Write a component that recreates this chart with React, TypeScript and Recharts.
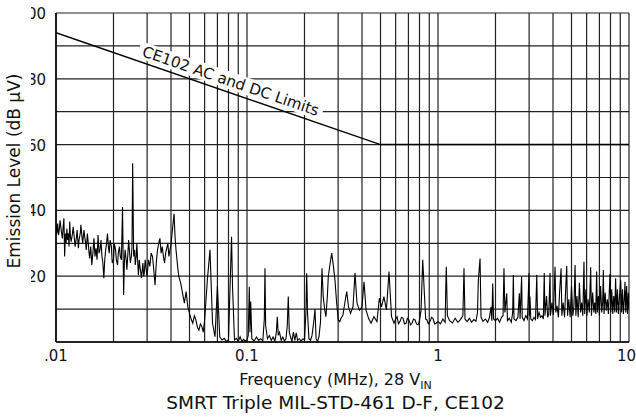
import { LineChart, Line, XAxis, YAxis, CartesianGrid, ReferenceDot } from 'recharts'

const FONT = '"DejaVu Sans", sans-serif'
const INK = '#111'

// CE102 limit for 28 V input: 94 dBuV at 10 kHz down to 60 dBuV at 500 kHz, flat after
const limitFreq = [0.01, 0.5, 10]
const limitLevel = [94, 60, 60]

// where the limit caption sits along the sloped part of the limit line
const captionFreq = 0.0786
const captionLevel = 76.1

const xTicks = [
  0.01, 0.02, 0.03, 0.04, 0.05, 0.06, 0.07, 0.08, 0.09,
  0.1, 0.2, 0.3, 0.4, 0.5, 0.6, 0.7, 0.8, 0.9,
  1, 2, 3, 4, 5, 6, 7, 8, 9, 10,
]
const xTickLabels: Record<string, string> = { '0.01': '.01', '0.1': '0.1', '1': '1', '10': '10' }
const yTicks = [0, 10, 20, 30, 40, 50, 60, 70, 80, 90, 100]
const yTickLabels = [20, 40, 60, 80, 100]

const lowBand: [number, number][] = [
  [0.01, 35.6], [0.0101, 33], [0.0102, 36], [0.0103, 32.5], [0.0104, 34], [0.0105, 37],
  [0.0106, 35], [0.0107, 33], [0.0108, 31.5], [0.0109, 35], [0.011, 37.6], [0.0111, 26],
  [0.0112, 33], [0.0113, 30], [0.0114, 34.5], [0.0115, 31], [0.0116, 33], [0.0117, 29],
  [0.0118, 36.6], [0.0119, 32], [0.012, 30.5], [0.0122, 33], [0.0123, 35], [0.0125, 31],
  [0.0126, 29], [0.0128, 32], [0.0129, 34], [0.0131, 28.5], [0.0132, 31], [0.0134, 33],
  [0.0135, 35.6], [0.0137, 31.5], [0.0138, 30], [0.014, 34], [0.0141, 32.5], [0.0143, 30],
  [0.0144, 28], [0.0146, 33], [0.0147, 31], [0.0149, 27], [0.015, 25.4], [0.0152, 29],
  [0.0154, 23.4], [0.0156, 27], [0.0158, 31.5], [0.016, 26], [0.0162, 28.5], [0.0164, 25],
  [0.0166, 32.5], [0.0168, 27], [0.017, 28], [0.0172, 31], [0.0174, 26], [0.0176, 24],
  [0.0178, 19.4], [0.018, 25], [0.0182, 28], [0.0184, 30], [0.0186, 33], [0.0188, 29],
  [0.019, 27], [0.0192, 31], [0.0195, 29], [0.0197, 24], [0.02, 25], [0.0202, 30],
  [0.0205, 28], [0.0207, 25], [0.021, 23.4], [0.0212, 27], [0.0215, 29], [0.0217, 26],
  [0.022, 25], [0.0223, 41], [0.0226, 14.3], [0.0228, 24], [0.023, 28], [0.0233, 25],
  [0.0235, 22], [0.0238, 27], [0.024, 31], [0.0243, 27], [0.0245, 24], [0.0248, 26],
  [0.025, 29], [0.0252, 54.3], [0.0255, 26], [0.0258, 28], [0.026, 23.4], [0.0263, 26],
  [0.0265, 30], [0.0268, 24], [0.027, 20.4], [0.0273, 25], [0.0275, 23], [0.0278, 21],
  [0.028, 19.4], [0.0283, 22], [0.0285, 24], [0.0288, 20], [0.029, 21], [0.0293, 25],
  [0.0295, 23.4], [0.0298, 21], [0.03, 20], [0.0305, 25], [0.031, 23], [0.0315, 27],
  [0.032, 26], [0.0325, 22], [0.033, 17.3], [0.0335, 24], [0.034, 28], [0.0345, 30],
  [0.035, 31.5], [0.0355, 27], [0.036, 29], [0.0365, 26], [0.037, 24], [0.0375, 27],
  [0.038, 28.5], [0.0385, 30], [0.039, 26], [0.0395, 28], [0.04, 29.5], [0.0405, 33],
  [0.041, 36], [0.0415, 39], [0.042, 32], [0.0425, 28], [0.043, 25], [0.0435, 22],
  [0.044, 19.9], [0.045, 17.8], [0.046, 14.8], [0.047, 11.8], [0.048, 15.3], [0.049, 10.7],
  [0.05, 8.7],
]

const dipBand: [number, number][] = [
  [0.051, 7], [0.052, 5.7], [0.053, 8], [0.054, 6.7], [0.055, 4.5], [0.056, 3.6],
  [0.057, 5.5], [0.058, 4.7], [0.059, 3], [0.06, 6.7], [0.062, 18.8], [0.064, 28],
  [0.066, 5.7], [0.068, 1.6], [0.07, 17], [0.072, 1.6], [0.074, 0.6], [0.076, 1.1],
  [0.078, 0.1], [0.08, 0.6], [0.083, 32], [0.084, 16.8], [0.086, 0.6], [0.088, 1.1],
  [0.09, 0.2], [0.092, 1.6], [0.094, 0.2], [0.096, 0.8], [0.098, 0.3],
]

const midBand: [number, number][] = [
  [0.1, 0.5], [0.1015, 2], [0.1028, 16.8], [0.1037, 3], [0.1046, 12.3], [0.106, 1],
  [0.109, 0.3], [0.112, 1.5], [0.115, 0.5], [0.118, 1], [0.121, 0.3], [0.1232, 7],
  [0.1242, 22.4], [0.1252, 5], [0.128, 1], [0.131, 2], [0.134, 0.5], [0.137, 1.5],
  [0.14, 0.3], [0.1425, 3], [0.1441, 7.7], [0.1458, 2], [0.148, 3], [0.151, 0.5],
  [0.154, 1.5], [0.157, 0.3], [0.16, 1], [0.1625, 5], [0.1645, 13.8], [0.1665, 3],
  [0.169, 1.5], [0.172, 0.3], [0.175, 3], [0.178, 0.5], [0.181, 2.8], [0.184, 0.5],
  [0.188, 1], [0.192, 0.3], [0.196, 1], [0.2, 0.5], [0.2035, 9], [0.2054, 20.9],
  [0.2075, 8.7], [0.211, 1], [0.215, 0.5], [0.219, 2], [0.2235, 6], [0.227, 10],
  [0.23, 1], [0.234, 0.2], [0.238, 1.5], [0.2425, 6], [0.247, 22.4], [0.2505, 14],
  [0.255, 10], [0.259, 7.7], [0.2635, 14], [0.2665, 19.9], [0.2725, 24], [0.2777, 27],
  [0.2835, 23], [0.2888, 18.8], [0.2945, 12], [0.3006, 6.7], [0.306, 6.2], [0.3105, 7.2],
  [0.318, 8.2], [0.326, 12.3], [0.3327, 15.3], [0.34, 10.7], [0.3483, 8.7], [0.3589, 10.7],
  [0.3677, 21], [0.3766, 11.8], [0.3881, 9.7], [0.4, 10.7], [0.41, 18.3], [0.42, 9.7],
  [0.433, 7.2], [0.446, 5.7], [0.462, 7.7], [0.479, 6.2], [0.493, 13.3], [0.506, 10.7],
  [0.521, 13.8], [0.537, 9.7], [0.554, 21.4], [0.571, 7.7], [0.5885, 5.7], [0.6, 7],
  [0.61, 7.7], [0.621, 5.5], [0.632, 6.2], [0.644, 7.5], [0.656, 7.2], [0.668, 5.5],
  [0.68, 5.7], [0.692, 7.2], [0.705, 6.7], [0.718, 5.2], [0.731, 5.7], [0.744, 7],
  [0.758, 6.7], [0.772, 5.5], [0.786, 5.2], [0.8, 6.5], [0.815, 9.7], [0.832, 25],
  [0.85, 13.8], [0.862, 7], [0.875, 6.7], [0.89, 5.5], [0.908, 6.2], [0.925, 7.5],
  [0.942, 7.2], [0.96, 5.5], [0.977, 5.7],
]

const highBand: [number, number][] = [
  [1, 6.2], [1.03, 5.5], [1.06, 7], [1.09, 6], [1.097, 15], [1.105, 22.9], [1.12, 8],
  [1.15, 6.5], [1.19, 5.8], [1.23, 7.2], [1.27, 6], [1.31, 6.8], [1.35, 8], [1.368, 22.4],
  [1.385, 7], [1.42, 6.2], [1.46, 7.2], [1.5, 6], [1.54, 6.8], [1.58, 6.3], [1.61, 9],
  [1.626, 18.8], [1.66, 25.4], [1.68, 7.5], [1.72, 6.3], [1.77, 7], [1.82, 6], [1.86, 7.5],
  [1.895, 10.7], [1.915, 6.5], [1.934, 17.8], [1.955, 7], [2, 6.5], [2.05, 7.2], [2.1, 6],
  [2.15, 7.5], [2.19, 8], [2.215, 22.4], [2.24, 9], [2.29, 14.8], [2.31, 6.5], [2.36, 7.2],
  [2.42, 6], [2.46, 9], [2.48, 20.4], [2.5, 7], [2.56, 6.5], [2.62, 7.5], [2.666, 14.8],
  [2.69, 7], [2.74, 19.9], [2.76, 7.5], [2.82, 6.5], [2.88, 8], [2.94, 7], [2.995, 20.9],
  [3.01, 8], [3.03, 13.8], [3.06, 7], [3.12, 6.5], [3.18, 7.5], [3.24, 6.8], [3.29, 20.4],
  [3.32, 7], [3.38, 9], [3.44, 7.5], [3.5, 8], [3.56, 7], [3.6, 21], [3.63, 8], [3.7, 14],
  [3.75, 7.5], [3.8, 8.5], [3.86, 21], [3.88, 8], [3.95, 12], [4.02, 8.2], [4.1, 22.9],
  [4.14, 9], [4.2, 11], [4.27, 7.5], [4.33, 15], [4.41, 22.4], [4.45, 8], [4.52, 12],
  [4.6, 7.5], [4.66, 16], [4.72, 23.1], [4.77, 8], [4.84, 13], [4.92, 7.5], [5, 17],
  [5.08, 8], [5.15, 11], [5.22, 23.4], [5.27, 8], [5.34, 14], [5.42, 7.5], [5.5, 18],
  [5.58, 9], [5.65, 12], [5.73, 8], [5.81, 24.4], [5.86, 8.5], [5.95, 16], [6.02, 8],
  [6.1, 13], [6.2, 9], [6.3, 22.7], [6.36, 8], [6.45, 15], [6.55, 9], [6.62, 12],
  [6.7, 8.5], [6.77, 21.4], [6.83, 9], [6.92, 14], [7, 8], [7.1, 17], [7.2, 9], [7.28, 12],
  [7.34, 21.9], [7.4, 8.5], [7.5, 15], [7.6, 9.5], [7.7, 13], [7.8, 8.5], [7.95, 20.7],
  [8.03, 9], [8.12, 16], [8.22, 8.5], [8.32, 14], [8.42, 9], [8.51, 19.4], [8.6, 9],
  [8.7, 16], [8.8, 8.5], [8.92, 14], [9.05, 18.8], [9.15, 9], [9.25, 16], [9.35, 8.5],
  [9.45, 13], [9.53, 18.3], [9.62, 9], [9.72, 17], [9.82, 8.5], [9.92, 15], [10, 10],
]

const emission = [...lowBand, ...dipBand, ...midBand, ...highBand].map(([f, v]) => ({ f, v }))
const limit = limitFreq.map((f, i) => ({ f, v: limitLevel[i] }))

const XTick = ({ x, y, payload }: any) => {
  const label = xTickLabels[String(payload.value)]
  if (!label) return <g />
  // the last label would run past the right edge, so it is right-aligned there
  const last = payload.value === xTicks[xTicks.length - 1]
  return (
    <text
      x={last ? x + 7 : x}
      y={y}
      dy={11}
      textAnchor={last ? 'end' : 'middle'}
      fontSize={15}
      fontFamily={FONT}
      fill={INK}
    >
      {label}
    </text>
  )
}

// the left edge of the original tick labels is cut off, keep that look
const YTick = ({ x, y, payload }: any) => {
  const v = payload.value
  if (!yTickLabels.includes(v)) return <g />
  const id = `ytick-clip-${v}`
  return (
    <g>
      <defs>
        <clipPath id={id}>
          <rect x={31} y={y - 14} width={30} height={28} />
        </clipPath>
      </defs>
      <text x={x - 2} y={y} dy={6} textAnchor="end" fontSize={15} fontFamily={FONT} fill={INK} clipPath={`url(#${id})`}>
        {v}
      </text>
    </g>
  )
}

const LimitCaption = ({ cx, cy }: any) => (
  <g transform={`translate(${cx},${cy}) rotate(18.9)`}>
    <rect x={-97} y={-20} width={194} height={17} fill="#fff" />
    <text x={0} y={-6} textAnchor="middle" fontSize={15.2} fontFamily={FONT} fill={INK}>
      CE102 AC and DC Limits
    </text>
  </g>
)

const XTitle = ({ viewBox }: any) => {
  const cx = viewBox.x + viewBox.width / 2 - 7
  return (
    <g fontFamily={FONT} fill={INK} textAnchor="middle">
      <text x={cx} y={viewBox.y + 43} fontSize={16}>
        Frequency (MHz), 28 V<tspan fontSize={11} dy={4}>IN</tspan>
      </text>
      <text x={cx} y={viewBox.y + 67} fontSize={18.5}>
        SMRT Triple MIL-STD-461 D-F, CE102
      </text>
    </g>
  )
}

const YTitle = () => (
  <text x={20} y={171} transform="rotate(-90 20 171)" textAnchor="middle" fontSize={17} fontFamily={FONT} fill={INK}>
    Emission Level (dB µV)
  </text>
)

export default function App() {
  return (
    <div style={{ position: 'absolute', left: 0, top: 0, width: 636, height: 418, background: '#fff' }}>
      <LineChart width={636} height={418} margin={{ top: 13, right: 7, bottom: 0, left: 0 }}>
        <CartesianGrid stroke="#222" strokeWidth={1.2} />
        <XAxis
          dataKey="f"
          type="number"
          scale="log"
          domain={[0.01, 10]}
          ticks={xTicks}
          interval={0}
          allowDataOverflow
          height={76}
          tickLine={false}
          axisLine={{ stroke: '#000', strokeWidth: 1.5 }}
          tick={<XTick />}
          label={<XTitle />}
        />
        <YAxis
          type="number"
          domain={[0, 100]}
          ticks={yTicks}
          interval={0}
          width={56}
          tickLine={false}
          axisLine={{ stroke: '#000', strokeWidth: 1.5 }}
          tick={<YTick />}
          label={<YTitle />}
        />
        <Line data={emission} dataKey="v" type="linear" stroke="#000" strokeWidth={1.1} dot={false} isAnimationActive={false} />
        <Line data={limit} dataKey="v" type="linear" stroke="#000" strokeWidth={1.5} dot={false} isAnimationActive={false} />
        <ReferenceDot x={captionFreq} y={captionLevel} r={1} shape={<LimitCaption />} />
      </LineChart>
    </div>
  )
}
